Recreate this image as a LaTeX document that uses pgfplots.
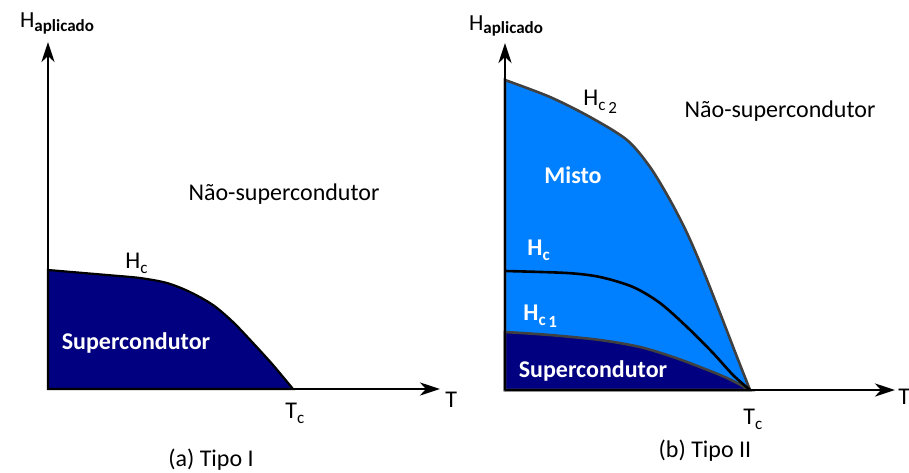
\documentclass[border=0pt]{standalone}
\usepackage{pgfplots}
\pgfplotsset{compat=1.18}
\usetikzlibrary{arrows.meta}
\usepackage{fontspec}
\setmainfont{Carlito}

\definecolor{navyfill}{RGB}{0,0,128}
\definecolor{skyfill}{RGB}{0,128,255}
\definecolor{edgegray}{RGB}{64,64,64}

\newcommand{\lbl}{\fontsize{12}{14}\selectfont}
\newcommand{\Hap}{{\fontsize{11.5}{13}\selectfont H}\raisebox{-0.35ex}{\fontsize{8.5}{10}\selectfont\bfseries aplicado}}
\newcommand{\sub}[1]{\raisebox{-0.45ex}{\fontsize{8.5}{9}\selectfont #1}}

\tikzset{
  txt/.style={font=\lbl},
  wtxt/.style={font=\lbl\bfseries, text=white},
}

\pgfplotsset{phase/.style={
  x=0.5pt, y=0.5pt, anchor=origin,
  xmin=0, ymin=0, ymax=347,
  axis lines=left, axis on top, clip=false,
  xtick=\empty, ytick=\empty,
  axis line style={line width=1.4pt, -{Stealth[length=10pt,width=6.5pt,inset=3pt]}},
}}

\begin{document}
\begin{tikzpicture}
\useasboundingbox (0,0) rectangle (454.5pt,236pt);

% (a) Type I superconductor
\begin{axis}[phase, at={(24pt,41.5pt)}, xmax=392]
  \addplot[fill=navyfill, draw=black, line width=1.1pt, smooth]
    coordinates {(0,119) (59,114) (92,111) (119,106) (142,97) (165,84) (185,67) (205,46) (225,24) (245,0)} \closedcycle;
  \node[anchor=base west] at (axis cs:-35,361) {\Hap};
  \node[anchor=base, txt] at (axis cs:236,189) {Não-supercondutor};
  \node[anchor=base west, txt, inner sep=0pt] at (axis cs:77,121) {H\sub{c}};
  \node[anchor=base, wtxt] at (axis cs:88,40) {Supercondutor};
  \node[anchor=base west, txt, inner sep=0pt] at (axis cs:237,-29) {T\sub{c}};
  \node[anchor=base west, txt, inner sep=0pt] at (axis cs:397,-18) {T};
  \node[anchor=base, txt] at (axis cs:163,-77) {(a) Tipo I};
\end{axis}

% (b) Type II superconductor
\begin{axis}[phase, at={(252.5pt,41pt)}, xmax=390]
  \addplot[fill=skyfill, draw=edgegray, line width=1.3pt, smooth]
    coordinates {(0,310) (45,293) (85,273) (122,250) (145,223) (165,190) (182,157) (198,120) (215,77) (232,33) (245,0)} \closedcycle;
  \addplot[fill=navyfill, draw=edgegray, line width=1.3pt, smooth]
    coordinates {(0,58) (45,55) (95,50) (135,43) (168,33) (195,23) (222,12) (245,0)} \closedcycle;
  \addplot[draw=black, line width=1.3pt, smooth]
    coordinates {(0,119) (62,117) (95,113) (128,103) (155,87) (182,63) (208,37) (228,15) (245,0)};
  \node[anchor=base west] at (axis cs:-43,360) {\Hap};
  \node[anchor=base west, txt, inner sep=0pt] at (axis cs:78,285) {H\sub{c\,\raisebox{-0.4ex}{2}}};
  \node[anchor=base, txt] at (axis cs:275,273) {Não-supercondutor};
  \node[anchor=base, wtxt] at (axis cs:68,207) {Misto};
  \node[anchor=base west, wtxt, inner sep=0pt] at (axis cs:22,135) {H\sub{c}};
  \node[anchor=base west, wtxt, inner sep=0pt] at (axis cs:18,70) {H\sub{c\,\raisebox{-0.3ex}{1}}};
  \node[anchor=base, wtxt] at (axis cs:88,13) {Supercondutor};
  \node[anchor=base west, txt, inner sep=0pt] at (axis cs:238,-34) {T\sub{c}};
  \node[anchor=base west, txt, inner sep=0pt] at (axis cs:393,-14) {T};
  \node[anchor=base, txt] at (axis cs:200,-67) {(b) Tipo II};
\end{axis}
\end{tikzpicture}
\end{document}
